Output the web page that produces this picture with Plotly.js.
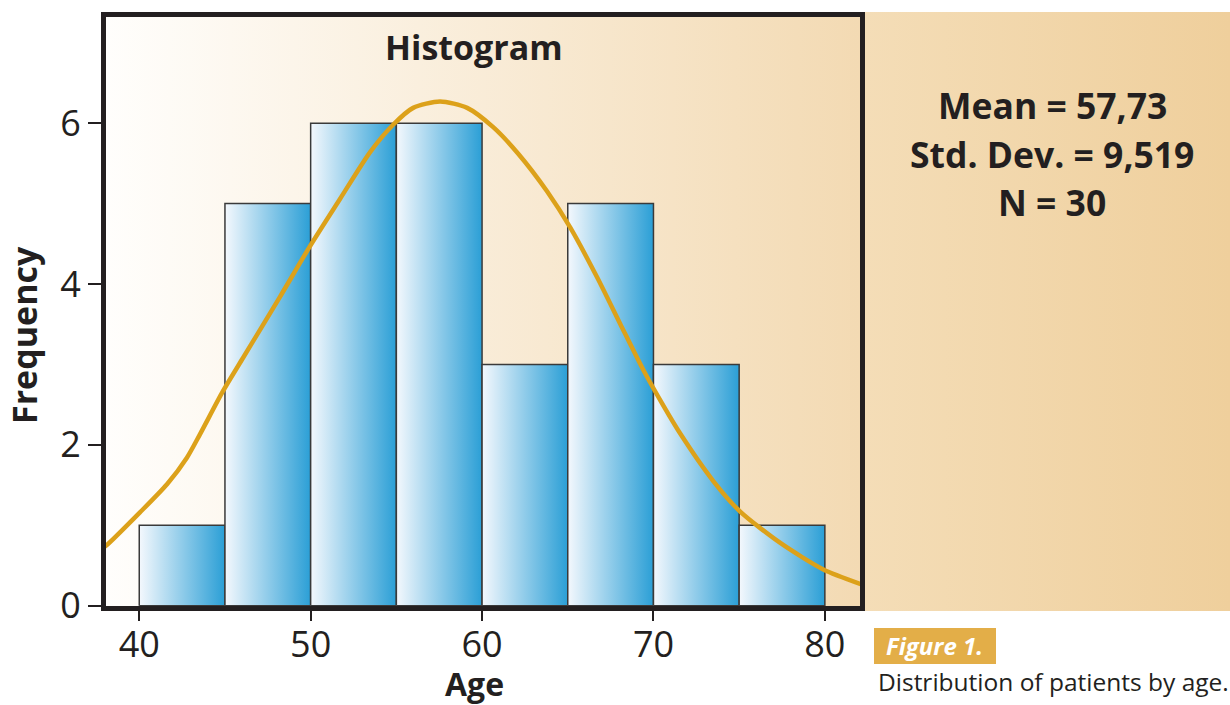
<!DOCTYPE html>
<html>
<head>
<meta charset="utf-8">
<script src="https://cdn.plot.ly/plotly-3.0.1.min.js"></script>
<style>html,body{margin:0;padding:0;background:#fff;}#chart{width:1230px;height:705px;}</style>
</head>
<body>
<div id="chart"></div>
<script>
// ---- data ----
var binEdges = [40, 45, 50, 55, 60, 65, 70, 75, 80];
var binCounts = [1, 5, 6, 6, 3, 5, 3, 1];
var curveX = [37.9, 38.11, 40.04, 41.62, 42.78, 43.54, 44.89, 46.05, 47.16, 48.21, 49.96, 51.72, 53.47, 54.81, 55.98, 57.55, 59.13, 60.65, 62.11, 63.80, 65.15, 66.72, 68.07, 69.41, 70.57, 71.56, 73.49, 75.06, 77.40, 79.91, 82.2];
var curveY = [0.72, 0.754, 1.16, 1.51, 1.84, 2.13, 2.67, 3.08, 3.47, 3.84, 4.47, 5.06, 5.64, 5.98, 6.19, 6.27, 6.19, 5.95, 5.62, 5.15, 4.70, 4.08, 3.50, 2.93, 2.49, 2.14, 1.55, 1.17, 0.78, 0.45, 0.26];
var xTicks = [40, 50, 60, 70, 80];
var yTicks = [0, 2, 4, 6];
var statLines = ["Mean = 57,73", "Std. Dev. = 9,519", "N = 30"];
var chartTitle = "Histogram";
var xTitle = "Age";
var yTitle = "Frequency";
var figLabel = "Figure 1.";
var caption = "Distribution of patients by age.";

// ---- layout helpers ----
var W = 1230, H = 705;
function px(x) { return x / W; }
function py(y) { return 1 - y / H; }
var xRange = [38.06, 82.05];
var yRange = [-0.004, 7.32];
var ink = '#231f20';
var fam = '"Open Sans", "Noto Sans", sans-serif';

var traces = [];
// plot background gradient
traces.push({
  x: [xRange[0], xRange[1], xRange[1], xRange[0]],
  y: [yRange[0], yRange[0], yRange[1], yRange[1]],
  mode: 'none', fill: 'toself', hoverinfo: 'skip', showlegend: false,
  fillgradient: {type: 'horizontal', colorscale: [[0, '#fffefc'], [1, '#f3dab3']]},
  xaxis: 'x', yaxis: 'y'
});
// bars
for (var i = 0; i < binCounts.length; i++) {
  var a = binEdges[i], b = binEdges[i + 1], c = binCounts[i];
  traces.push({
    x: [a, b, b, a, a], y: [0, 0, c, c, 0],
    mode: 'lines', fill: 'toself', hoverinfo: 'skip', showlegend: false,
    line: {color: '#3a3a3a', width: 1.5},
    fillgradient: {type: 'horizontal', colorscale: [[0, '#f4f8fd'], [1, '#2b9fd6']]},
    xaxis: 'x', yaxis: 'y'
  });
}
// normal curve
traces.push({
  x: curveX, y: curveY, mode: 'lines', hoverinfo: 'skip', showlegend: false,
  line: {color: '#dca11a', width: 4.5, shape: 'spline', smoothing: 0.7},
  xaxis: 'x', yaxis: 'y'
});
// side panel gradient
traces.push({
  x: [0, 1, 1, 0], y: [0, 0, 1, 1],
  mode: 'none', fill: 'toself', hoverinfo: 'skip', showlegend: false,
  fillgradient: {type: 'horizontal', colorscale: [[0, '#f4ddb7'], [1, '#efcf9c']]},
  xaxis: 'x2', yaxis: 'y2'
});

var annotations = [];
annotations.push({text: '<b>' + chartTitle + '</b>', xref: 'paper', yref: 'paper', x: px(474), y: py(47),
  xanchor: 'center', yanchor: 'middle', showarrow: false, font: {family: fam, size: 34, color: ink}});
annotations.push({text: '<b>' + xTitle + '</b>', xref: 'paper', yref: 'paper', x: px(474), y: py(683),
  xanchor: 'center', yanchor: 'middle', showarrow: false, borderpad: 0, font: {family: fam, size: 32, color: ink}});
annotations.push({text: '<b>' + yTitle + '</b>', xref: 'paper', yref: 'paper', x: px(24), y: py(335),
  xanchor: 'center', yanchor: 'middle', textangle: -90, showarrow: false, font: {family: fam, size: 34, color: ink}});
var statY = [105, 154, 202];
for (var k = 0; k < statLines.length; k++) {
  annotations.push({text: '<b>' + statLines[k] + '</b>', xref: 'paper', yref: 'paper', x: px(1052), y: py(statY[k]),
    xanchor: 'center', yanchor: 'middle', showarrow: false, font: {family: fam, size: 35.5, color: ink}});
}
annotations.push({text: '<b><i>' + figLabel + '</i></b>', xref: 'paper', yref: 'paper', x: px(934), y: py(645),
  xanchor: 'center', yanchor: 'middle', showarrow: false, font: {family: fam, size: 24, color: '#ffffff'}});
annotations.push({text: caption, xref: 'paper', yref: 'paper', x: px(877), y: py(681),
  xanchor: 'left', yanchor: 'middle', showarrow: false, borderpad: 0, font: {family: fam, size: 24.5, color: ink}});

var layout = {
  width: W, height: H, autosize: false,
  margin: {l: 0, r: 0, t: 0, b: 0, pad: 0},
  paper_bgcolor: '#ffffff', plot_bgcolor: 'rgba(0,0,0,0)',
  showlegend: false, hovermode: false,
  xaxis: {
    domain: [px(106), px(860)], range: xRange, fixedrange: true,
    tickvals: xTicks, ticks: 'outside', ticklen: 10, tickwidth: 2, tickcolor: ink,
    ticklabelstandoff: -7,
    showline: true, linewidth: 5, linecolor: ink, mirror: true,
    showgrid: false, zeroline: false,
    tickfont: {family: fam, size: 36, color: ink}
  },
  yaxis: {
    domain: [py(606), py(17)], range: yRange, fixedrange: true,
    tickvals: yTicks, ticks: 'outside', ticklen: 13, tickwidth: 2, tickcolor: ink,
    showline: true, linewidth: 5, linecolor: ink, mirror: true,
    showgrid: false, zeroline: false,
    tickfont: {family: fam, size: 36, color: ink}
  },
  xaxis2: {domain: [px(865), 1], range: [0, 1], visible: false, fixedrange: true, anchor: 'y2'},
  yaxis2: {domain: [py(611), py(12)], range: [0, 1], visible: false, fixedrange: true, anchor: 'x2'},
  shapes: [
    {type: 'rect', xref: 'paper', yref: 'paper', x0: px(874), x1: px(996), y0: py(664), y1: py(628),
      fillcolor: '#e3ae48', line: {width: 0}, layer: 'above'}
  ],
  annotations: annotations
};

Plotly.newPlot('chart', traces, layout, {staticPlot: true, displayModeBar: false});
</script>
</body>
</html>
